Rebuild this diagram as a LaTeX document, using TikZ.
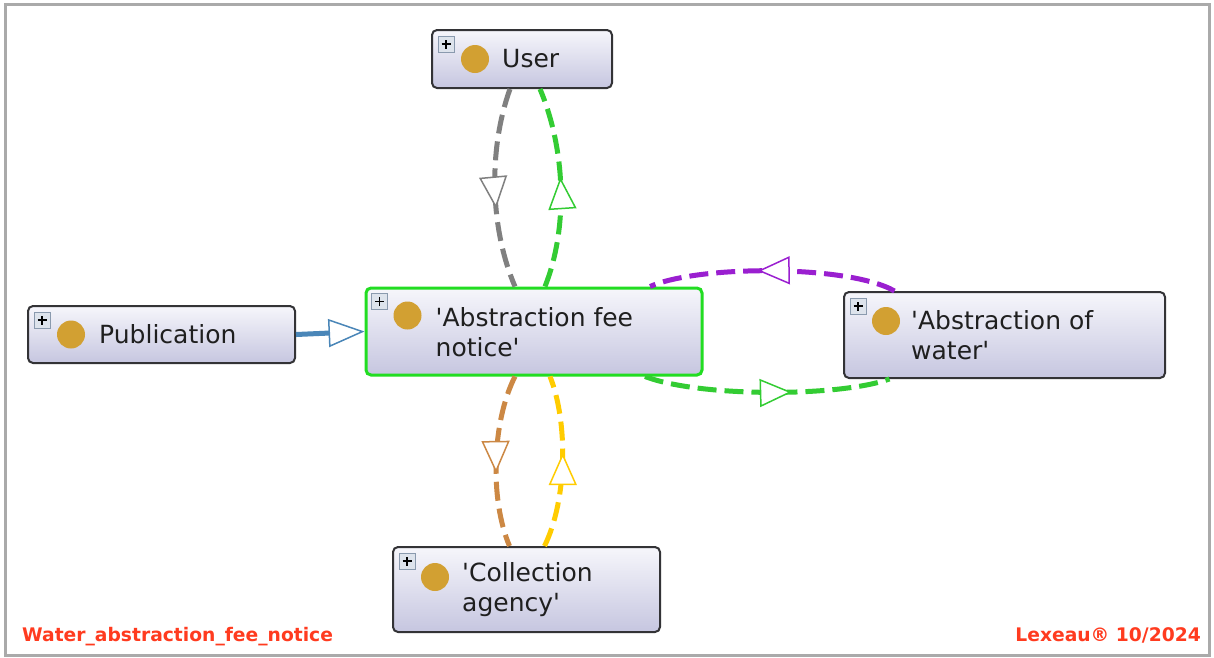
\documentclass[tikz,border=0pt]{standalone}
\usepackage{fontspec}
\setmainfont{DejaVu Sans}
\newfontfamily\footfont{DejaVu Sans}
\usetikzlibrary{arrows.meta,decorations.markings}
\definecolor{boxborder}{HTML}{333336}
\definecolor{boxtop}{HTML}{F6F6FB}
\definecolor{boxbot}{HTML}{C6C6E0}
\definecolor{dotcol}{HTML}{D2A032}
\definecolor{selgreen}{HTML}{22DD22}
\definecolor{egrey}{HTML}{808080}
\definecolor{egreen}{HTML}{33CC33}
\definecolor{epurple}{HTML}{9A1FD0}
\definecolor{ebrown}{HTML}{CC8844}
\definecolor{eyellow}{HTML}{FFCC00}
\definecolor{eblue}{HTML}{4A86B8}
\definecolor{footred}{HTML}{FF3B1F}
\definecolor{framegrey}{HTML}{AAAAAA}
\definecolor{plusfill}{HTML}{DDE3EC}
\definecolor{plusborder}{HTML}{8A9AAE}
\newcommand{\q}{\textquotesingle}
\tikzset{
  box/.style={draw=boxborder, line width=2pt, rounded corners=5pt,
    top color=boxtop, bottom color=boxbot, inner sep=0pt},
  lbl/.style={font=\fontsize{25}{30}\selectfont, text=black!88, inner sep=0pt, align=left},
  dot/.style={circle, fill=dotcol, minimum size=28pt, inner sep=0pt},
  plusicon/.style={draw=plusborder, line width=0.8pt, fill=plusfill, minimum size=16pt, inner sep=0pt,
    path picture={\draw[black, line width=1.4pt] ([xshift=-4.5pt]path picture bounding box.center) -- ([xshift=4.5pt]path picture bounding box.center)
      ([yshift=-4.5pt]path picture bounding box.center) -- ([yshift=4.5pt]path picture bounding box.center);}},
  edge/.style={line width=5pt, dash pattern=on 19pt off 8pt},
  midarrow/.style={postaction={decorate}, decoration={markings,
    mark=at position #1 with {\arrow{Triangle[open, fill=white, length=32pt, width=28pt, line width=1.5pt]}}}},
  foot/.style={font=\footfont\bfseries\fontsize{18.7}{22}\selectfont, text=footred, inner sep=0pt}
}
\begin{document}
\begin{tikzpicture}[x=1pt,y=-1pt]
\useasboundingbox (0,0) rectangle (1214,657);
\fill[white] (0,0) rectangle (1214,657);
\draw[framegrey, line width=3pt] (5,4) rectangle (1209,655);

% boxes
\node[box, minimum width=180pt, minimum height=58pt] (user) at (522,59) {};
\node[box, minimum width=267pt, minimum height=57pt] (pub) at (161.5,334.5) {};
\node[box, draw=selgreen, line width=3pt, minimum width=336pt, minimum height=87pt] (afn) at (534,331.5) {};
\node[box, minimum width=321pt, minimum height=86pt] (aow) at (1004.5,335) {};
\node[box, minimum width=267pt, minimum height=85pt] (ca) at (526.5,589.5) {};

% icons
\node[plusicon] (userP) at ([shift={(15pt,-15pt)}]user.north west) {};
\node[dot] (userD) at ([xshift=44pt]user.west) {};
\node[lbl, anchor=west] (userT) at ([xshift=71pt]user.west) {User};

\node[plusicon] (pubP) at ([shift={(15pt,-15pt)}]pub.north west) {};
\node[dot] (pubD) at ([xshift=44pt]pub.west) {};
\node[lbl, anchor=west] (pubT) at ([xshift=72pt]pub.west) {Publication};

\node[plusicon] (afnP) at ([shift={(15pt,-15pt)}]afn.north west) {};
\node[dot] (afnD) at ([shift={(43pt,-29pt)}]afn.north west) {};
\node[lbl, anchor=west] (afnT) at ([shift={(71pt,-1pt)}]afn.west) {\q Abstraction fee\\notice\q};

\node[plusicon] (aowP) at ([shift={(15pt,-15pt)}]aow.north west) {};
\node[dot] (aowD) at ([shift={(43pt,-30pt)}]aow.north west) {};
\node[lbl, anchor=west] (aowT) at ([shift={(68pt,0pt)}]aow.west) {\q Abstraction of\\water\q};

\node[plusicon] (caP) at ([shift={(15pt,-15pt)}]ca.north west) {};
\node[dot] (caD) at ([shift={(43pt,-31pt)}]ca.north west) {};
\node[lbl, anchor=west] (caT) at ([shift={(70pt,0pt)}]ca.west) {\q Collection\\agency\q};

% connectors
\draw[edge, egrey, midarrow=0.6] ([xshift=-12pt]user.south) .. controls +(-22pt,-61pt) and +(-25pt,58pt) .. ([xshift=-19pt]afn.north);
\draw[edge, egreen, midarrow=0.55] ([xshift=11pt]afn.north) .. controls +(23pt,58pt) and +(26pt,-62pt) .. ([xshift=18pt]user.south);
\draw[edge, epurple, midarrow=0.56] ([xshift=-110pt]aow.north) .. controls +(-45pt,26pt) and +(50pt,22pt) .. ([xshift=116pt]afn.north);
\draw[edge, egreen, midarrow=0.6] ([xshift=111pt]afn.south) .. controls +(55pt,-21pt) and +(-50pt,-18pt) .. ([xshift=-115pt]aow.south);
\draw[edge, ebrown, midarrow=0.57] ([xshift=-19pt]afn.south) .. controls +(-23pt,-45pt) and +(-20pt,47pt) .. ([xshift=-17pt]ca.north);
\draw[edge, eyellow, midarrow=0.55] ([xshift=18pt]ca.north) .. controls +(23pt,47pt) and +(18pt,-45pt) .. ([xshift=16pt]afn.south);
\draw[eblue, line width=5pt, -{Triangle[open, fill=white, length=36pt, width=28pt, line width=1.5pt]}] (pub.east) -- (afn.west);

% footer
\node[foot, anchor=base west] (title) at (22,641) {Water\_abstraction\_fee\_notice};
\node[foot, anchor=base east] (copy) at (1201,641) {Lexeau® 10/2024};
\end{tikzpicture}
\end{document}
